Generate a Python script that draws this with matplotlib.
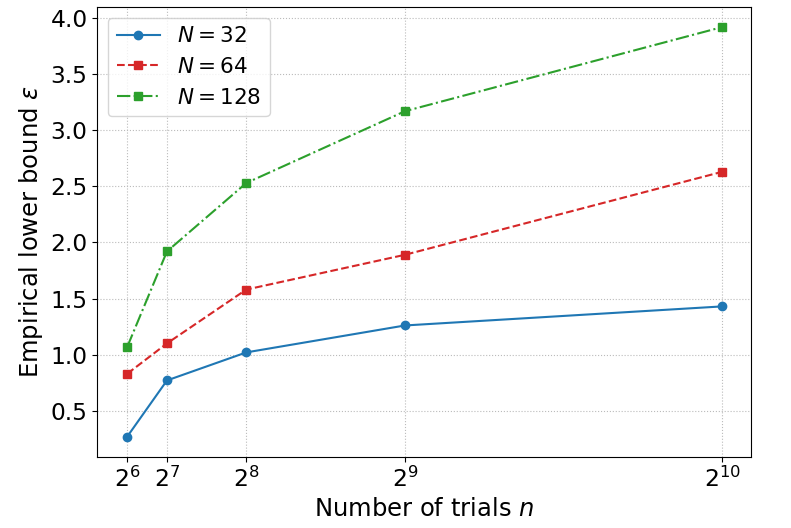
import matplotlib
matplotlib.use('Agg')
import matplotlib.pyplot as plt

trials = [64, 128, 256, 512, 1024]
tick_labels = [r'$2^{6}$', r'$2^{7}$', r'$2^{8}$', r'$2^{9}$', r'$2^{10}$']
eps_32 = [0.27, 0.77, 1.02, 1.26, 1.43]
eps_64 = [0.83, 1.10, 1.58, 1.89, 2.63]
eps_128 = [1.07, 1.92, 2.53, 3.17, 3.92]

fig, ax = plt.subplots(figsize=(7.91, 5.28), dpi=100)
ax.plot(trials, eps_32, '-o', color='tab:blue', label=r'$N=32$')
ax.plot(trials, eps_64, '--s', color='tab:red', label=r'$N=64$')
ax.plot(trials, eps_128, '-.s', color='tab:green', label=r'$N=128$')

ax.set_xticks(trials)
ax.set_xticklabels(tick_labels)
ax.set_ylim(0.09, 4.1)
ax.set_xlim(15.6, 1071)
ax.tick_params(labelsize=16.8)
ax.set_xlabel(r'Number of trials $n$', fontsize=17.5)
ax.set_ylabel(r'Empirical lower bound $\varepsilon$', fontsize=17.5)
ax.grid(True, linestyle=':', color='#bbbbbb')
ax.legend(fontsize=15.5, loc='upper left')

fig.subplots_adjust(left=0.123, right=0.95, top=0.987, bottom=0.135)
fig.savefig('out.png')
